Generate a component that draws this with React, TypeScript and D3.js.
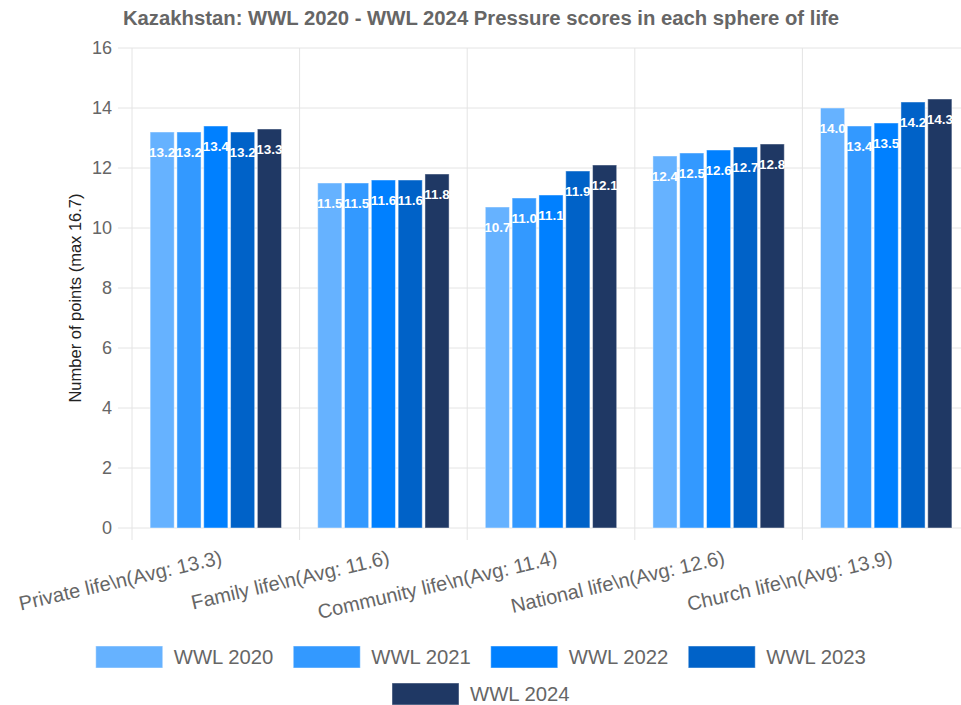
import React from 'react';
import * as d3 from 'd3';

const categories = [
  'Private life\\n(Avg: 13.3)',
  'Family life\\n(Avg: 11.6)',
  'Community life\\n(Avg: 11.4)',
  'National life\\n(Avg: 12.6)',
  'Church life\\n(Avg: 13.9)',
];
const seriesNames = ['WWL 2020', 'WWL 2021', 'WWL 2022', 'WWL 2023', 'WWL 2024'];
const wwl2020 = [13.2, 11.5, 10.7, 12.4, 14.0];
const wwl2021 = [13.2, 11.5, 11.0, 12.5, 13.4];
const wwl2022 = [13.4, 11.6, 11.1, 12.6, 13.5];
const wwl2023 = [13.2, 11.6, 11.9, 12.7, 14.2];
const wwl2024 = [13.3, 11.8, 12.1, 12.8, 14.3];
const yTicks = [0, 2, 4, 6, 8, 10, 12, 14, 16];

const seriesValues = [wwl2020, wwl2021, wwl2022, wwl2023, wwl2024];
const colors = ['#66b2ff', '#3399ff', '#0080ff', '#0062c8', '#1f3864'];

const W = 961;
const H = 705;
const plot = { left: 132, right: 970, top: 48, bottom: 528 };
const font = "'Liberation Sans', Arial, sans-serif";

export default function App() {
  const x = d3.scaleBand().domain(categories).range([plot.left, plot.right]);
  const bw = x.bandwidth();
  const xs = d3
    .scaleBand()
    .domain(seriesNames)
    .range([bw * 0.1, bw * 0.9]);
  const barW = xs.bandwidth() * 0.9;
  const y = d3.scaleLinear().domain([0, 16]).range([plot.bottom, plot.top]);

  const boundaries = categories.map((c) => x(c)!).concat([plot.right]);

  // legend layout
  const boxW = 67;
  const boxH = 22;
  const textW = 100;
  const itemW = boxW + 11 + textW;
  const gap = 19.5;
  const rows = [seriesNames.slice(0, 4), seriesNames.slice(4)];
  const cx = 481;

  return (
    <svg
      width={W}
      height={H}
      style={{ position: 'absolute', left: 0, top: 0, background: '#fff' }}
      fontFamily={font}
    >
      <text x={cx} y={25} textAnchor="middle" fontSize={20.3} fontWeight="bold" fill="#666">
        Kazakhstan: WWL 2020 - WWL 2024 Pressure scores in each sphere of life
      </text>

      {/* horizontal grid */}
      {yTicks.map((t) => (
        <g key={t}>
          <line x1={118} x2={plot.right} y1={y(t)} y2={y(t)} stroke="#e4e4e4" strokeWidth={1} />
          <text x={112} y={y(t)} dy="0.35em" textAnchor="end" fontSize={18} fill="#666">
            {t}
          </text>
        </g>
      ))}
      {/* vertical grid */}
      {boundaries.map((b, i) => (
        <line key={i} x1={b} x2={b} y1={plot.top} y2={540} stroke="#e4e4e4" strokeWidth={1} />
      ))}

      {/* bars */}
      {categories.map((c, ci) => (
        <g key={c}>
          {seriesNames.map((s, si) => {
            const v = seriesValues[si][ci];
            const bx = x(c)! + xs(s)! + (xs.bandwidth() - barW) / 2;
            const by = y(v);
            return (
              <g key={s}>
                <rect
                  x={bx}
                  y={by}
                  width={barW}
                  height={y(0) - by}
                  fill={colors[si]}
                  stroke="rgba(255,255,255,0.45)"
                  strokeWidth={1}
                />
                <text
                  x={bx + barW / 2}
                  y={by + 20}
                  dy="0.35em"
                  textAnchor="middle"
                  fontSize={13.5}
                  fontWeight="bold"
                  fill="#fff"
                >
                  {v.toFixed(1)}
                </text>
              </g>
            );
          })}
        </g>
      ))}

      {/* x labels */}
      {categories.map((c) => (
        <text
          key={c}
          transform={`translate(${x(c)! + bw / 2 + 4},${550}) rotate(-13)`}
          textAnchor="end"
          dy="0.71em"
          fontSize={20}
          fill="#666"
        >
          {c}
        </text>
      ))}

      {/* y axis title */}
      <text
        transform={`translate(75,${(plot.top + plot.bottom) / 2 + 10}) rotate(-90)`}
        textAnchor="middle"
        dy="0.35em"
        fontSize={16.5}
        fill="#222"
      >
        Number of points (max 16.7)
      </text>

      {/* legend */}
      {rows.map((row, ri) => {
        const total = row.length * itemW + (row.length - 1) * gap;
        const start = cx - total / 2;
        const ry = 646 + ri * 37;
        return row.map((s, i) => {
          const si = seriesNames.indexOf(s);
          const lx = start + i * (itemW + gap);
          return (
            <g key={s}>
              <rect x={lx} y={ry} width={boxW} height={boxH} fill={colors[si]} stroke="rgba(255,255,255,0.45)" />
              <text x={lx + boxW + 11} y={ry + boxH / 2} dy="0.35em" fontSize={20.3} fill="#666">
                {s}
              </text>
            </g>
          );
        });
      })}
    </svg>
  );
}
